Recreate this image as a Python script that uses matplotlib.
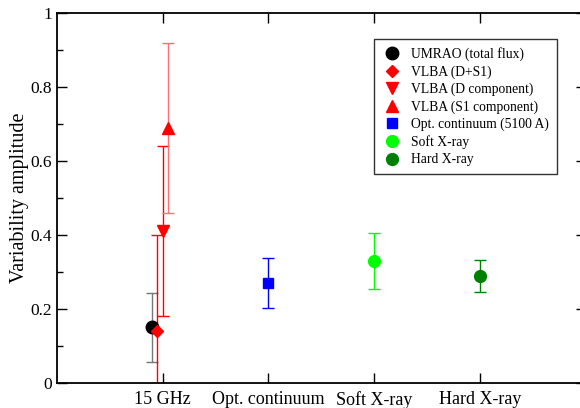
import matplotlib
matplotlib.use("Agg")
import matplotlib.pyplot as plt
from matplotlib.lines import Line2D

plt.rcParams["font.family"] = "Liberation Serif"

# category positions and labels on the x axis
tick_pos = [1, 2, 3, 4]
tick_labels = ["15 GHz", "Opt. continuum", "Soft X-ray", "Hard X-ray"]
y_ticks = [0, 0.2, 0.4, 0.6, 0.8, 1]
y_tick_labels = ["0", "0.2", "0.4", "0.6", "0.8", "1"]
y_minor = [0.1, 0.3, 0.5, 0.7, 0.9]

# series: name, x, value, error
names = ["UMRAO (total flux)", "VLBA (D+S1)", "VLBA (D component)",
         "VLBA (S1 component)", "Opt. continuum (5100 A)", "Soft X-ray", "Hard X-ray"]
x_vals = [0.9, 0.95, 1.0, 1.05, 2.0, 3.0, 4.0]
y_vals = [0.15, 0.14, 0.41, 0.69, 0.27, 0.33, 0.29]
y_errs = [0.093, 0.26, 0.23, 0.23, 0.068, 0.075, 0.043]

colors = ["black", "red", "red", "red", "blue", "#00ff00", "green"]
err_colors = ["#777777", "red", "red", "#ff7070", "blue", "#00ff00", "green"]
markers = ["o", "D", "v", "^", "s", "o", "o"]
sizes = [9, 6.5, 9, 9, 7, 8.5, 8.5]

fig = plt.figure(figsize=(5.8, 4.08), dpi=100)
ax = fig.add_axes([0.0978, 0.0613, 0.912, 0.907])

for i in range(len(names)):
    ax.errorbar(x_vals[i], y_vals[i], yerr=y_errs[i], fmt=markers[i],
                color=colors[i], ecolor=err_colors[i], markersize=sizes[i],
                elinewidth=1, capsize=4.5, capthick=1, label=names[i])

ax.set_xlim(0, 5)
ax.set_ylim(0, 1)
ax.set_xticks(tick_pos)
ax.set_xticklabels(tick_labels, fontsize=13)
ax.set_yticks(y_ticks)
ax.set_yticklabels(y_tick_labels, fontsize=12.5)
ax.set_yticks(y_minor, minor=True)
ax.tick_params(axis="both", which="both", direction="in", top=True, right=True)
ax.tick_params(which="major", length=7.5, width=1)
ax.tick_params(which="minor", length=4, width=1)
ax.tick_params(axis="x", pad=6)
for sp in ax.spines.values():
    sp.set_linewidth(1.3)
ax.set_ylabel("Variability amplitude", fontsize=14.5, labelpad=1)

handles = [Line2D([], [], marker=markers[i], color=colors[i], linestyle="none",
                  markersize=sizes[i]) for i in range(len(names))]
leg = ax.legend(handles, names, loc="upper left", bbox_to_anchor=(0.587, 0.948),
                fontsize=9.8, frameon=True, fancybox=False, edgecolor="black",
                handletextpad=0.6, labelspacing=0.3, borderpad=0.6,
                handlelength=1.5)
leg.get_frame().set_linewidth(1)

fig.savefig("out.png", dpi=100)
